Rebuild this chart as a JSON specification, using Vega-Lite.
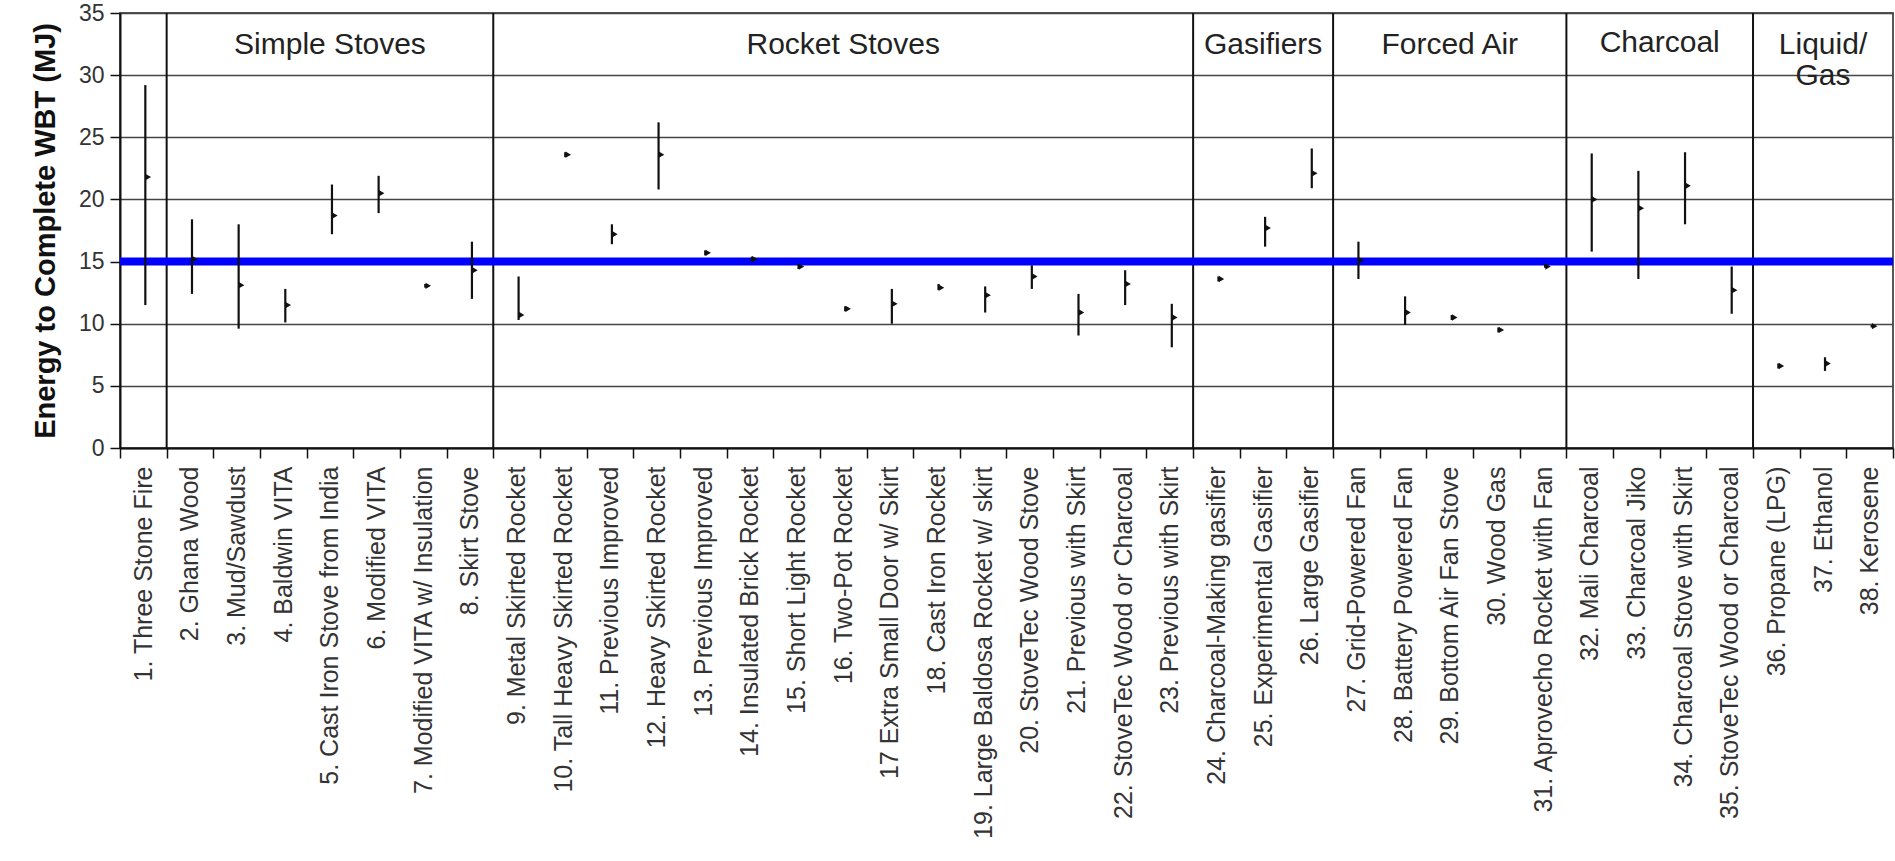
{
  "$schema": "https://vega.github.io/schema/vega-lite/v6.json",
  "width": 1773,
  "height": 435,
  "autosize": "none",
  "padding": {"left": 120, "top": 13, "right": 2, "bottom": 413},
  "background": "white",
  "config": {
    "font": "Liberation Sans",
    "view": {"stroke": "#222", "strokeWidth": 1.5}
  },
  "data": {
    "values": [
      {"n": "1. Three Stone Fire", "lo": 11.5, "hi": 29.2, "m": 21.8, "sep": 1},
      {"n": "2. Ghana Wood", "lo": 12.4, "hi": 18.4, "m": 15.2},
      {"n": "3. Mud/Sawdust", "lo": 9.6, "hi": 18.0, "m": 13.1},
      {"n": "4. Baldwin VITA", "lo": 10.1, "hi": 12.8, "m": 11.5},
      {"n": "5. Cast Iron Stove from India", "lo": 17.2, "hi": 21.2, "m": 18.7, "g": "Simple Stoves"},
      {"n": "6. Modified VITA", "lo": 18.9, "hi": 21.9, "m": 20.5},
      {"n": "7. Modified VITA w/ Insulation", "lo": 12.9, "hi": 13.2, "m": 13.05},
      {"n": "8. Skirt Stove", "lo": 12.0, "hi": 16.6, "m": 14.3, "sep": 1},
      {"n": "9. Metal Skirted Rocket", "lo": 10.3, "hi": 13.8, "m": 10.7},
      {"n": "10. Tall Heavy Skirted Rocket", "lo": 23.4, "hi": 23.8, "m": 23.6},
      {"n": "11. Previous Improved", "lo": 16.4, "hi": 18.0, "m": 17.2},
      {"n": "12. Heavy Skirted Rocket", "lo": 20.8, "hi": 26.2, "m": 23.6},
      {"n": "13. Previous Improved", "lo": 15.5, "hi": 15.9, "m": 15.7},
      {"n": "14. Insulated Brick Rocket", "lo": 15.0, "hi": 15.4, "m": 15.2},
      {"n": "15. Short Light Rocket", "lo": 14.4, "hi": 14.8, "m": 14.6},
      {"n": "16.  Two-Pot Rocket", "lo": 11.0, "hi": 11.4, "m": 11.2, "g": "Rocket Stoves"},
      {"n": "17  Extra Small Door w/ Skirt", "lo": 10.0, "hi": 12.8, "m": 11.6},
      {"n": "18. Cast Iron Rocket", "lo": 12.7, "hi": 13.2, "m": 12.9},
      {"n": "19. Large Baldosa Rocket  w/ skirt", "lo": 10.9, "hi": 13.0, "m": 12.3},
      {"n": "20. StoveTec Wood Stove", "lo": 12.8, "hi": 14.7, "m": 13.8},
      {"n": "21. Previous with Skirt", "lo": 9.05, "hi": 12.4, "m": 10.9},
      {"n": "22. StoveTec Wood or Charcoal", "lo": 11.5, "hi": 14.3, "m": 13.2},
      {"n": "23. Previous with Skirt", "lo": 8.1, "hi": 11.6, "m": 10.5, "sep": 1},
      {"n": "24. Charcoal-Making gasifier", "lo": 13.4, "hi": 13.8, "m": 13.6},
      {"n": "25. Experimental Gasifier", "lo": 16.2, "hi": 18.6, "m": 17.7, "g": "Gasifiers"},
      {"n": "26. Large Gasifier", "lo": 20.9, "hi": 24.1, "m": 22.1, "sep": 1},
      {"n": "27. Grid-Powered Fan", "lo": 13.6, "hi": 16.6, "m": 15.1},
      {"n": "28. Battery Powered Fan", "lo": 9.9, "hi": 12.2, "m": 10.9},
      {"n": "29. Bottom Air Fan Stove", "lo": 10.3, "hi": 10.7, "m": 10.5, "g": "Forced Air"},
      {"n": "30. Wood Gas", "lo": 9.3, "hi": 9.7, "m": 9.5},
      {"n": "31. Aprovecho Rocket with Fan", "lo": 14.5, "hi": 14.8, "m": 14.6, "sep": 1},
      {"n": "32. Mali Charcoal", "lo": 15.8, "hi": 23.7, "m": 20.0},
      {"n": "33. Charcoal Jiko", "lo": 13.6, "hi": 22.3, "m": 19.3, "g2": "Charcoal"},
      {"n": "34. Charcoal Stove with Skirt", "lo": 18.0, "hi": 23.8, "m": 21.1},
      {"n": "35. StoveTec Wood or Charcoal", "lo": 10.8, "hi": 14.6, "m": 12.7, "sep": 1},
      {"n": "36. Propane (LPG)", "lo": 6.4, "hi": 6.8, "m": 6.6},
      {"n": "37. Ethanol", "lo": 6.2, "hi": 7.3, "m": 6.8, "g": "Liquid/\nGas"},
      {"n": "38. Kerosene", "lo": 9.7, "hi": 9.9, "m": 9.8}
    ]
  },
  "encoding": {
    "x": {
      "field": "n",
      "type": "nominal",
      "scale": {
        "domain": ["1. Three Stone Fire", "2. Ghana Wood", "3. Mud/Sawdust", "4. Baldwin VITA", "5. Cast Iron Stove from India", "6. Modified VITA", "7. Modified VITA w/ Insulation", "8. Skirt Stove", "9. Metal Skirted Rocket", "10. Tall Heavy Skirted Rocket", "11. Previous Improved", "12. Heavy Skirted Rocket", "13. Previous Improved", "14. Insulated Brick Rocket", "15. Short Light Rocket", "16.  Two-Pot Rocket", "17  Extra Small Door w/ Skirt", "18. Cast Iron Rocket", "19. Large Baldosa Rocket  w/ skirt", "20. StoveTec Wood Stove", "21. Previous with Skirt", "22. StoveTec Wood or Charcoal", "23. Previous with Skirt", "24. Charcoal-Making gasifier", "25. Experimental Gasifier", "26. Large Gasifier", "27. Grid-Powered Fan", "28. Battery Powered Fan", "29. Bottom Air Fan Stove", "30. Wood Gas", "31. Aprovecho Rocket with Fan", "32. Mali Charcoal", "33. Charcoal Jiko", "34. Charcoal Stove with Skirt", "35. StoveTec Wood or Charcoal", "36. Propane (LPG)", "37. Ethanol", "38. Kerosene"],
        "paddingInner": 0,
        "paddingOuter": 0
      },
      "axis": {
        "title": null,
        "labelAngle": -90,
        "labelFontSize": 25,
        "labelColor": "#333",
        "labelLimit": 500,
        "labelPadding": 8,
        "tickBand": "extent",
        "tickSize": 10,
        "tickColor": "#111",
        "tickWidth": 1.5,
        "domainColor": "#111",
        "domainWidth": 2,
        "grid": false
      }
    }
  },
  "layer": [
    {
      "mark": {"type": "rule", "color": "#111", "strokeWidth": 2},
      "transform": [{"filter": "datum.sep === 1"}],
      "encoding": {"x": {"field": "n", "type": "nominal", "bandPosition": 1}}
    },
    {
      "mark": {"type": "text", "fontSize": 30, "color": "#222", "baseline": "middle", "align": "center", "lineBreak": "\n", "lineHeight": 31},
      "transform": [{"filter": "isValid(datum.g)"}],
      "encoding": {
        "text": {"field": "g"},
        "y": {"datum": 32.4, "type": "quantitative"}
      }
    },
    {
      "mark": {"type": "text", "fontSize": 30, "color": "#222", "baseline": "middle", "align": "center"},
      "transform": [{"filter": "isValid(datum.g2)"}],
      "encoding": {
        "x": {"field": "n", "type": "nominal", "bandPosition": 1},
        "text": {"field": "g2"},
        "y": {"datum": 32.6, "type": "quantitative"}
      }
    },
    {
      "data": {"values": [{"v": 15}]},
      "mark": {"type": "rule", "color": "#0000ff", "strokeWidth": 8},
      "encoding": {"x": null, "y": {"field": "v", "type": "quantitative"}}
    },
    {
      "mark": {"type": "rule", "color": "#111", "strokeWidth": 2.2, "xOffset": 2},
      "encoding": {
        "y": {
          "field": "lo",
          "type": "quantitative",
          "scale": {"domain": [0, 35], "nice": false, "zero": true},
          "axis": {
            "title": "Energy to Complete WBT (MJ)",
            "titleFontSize": 29,
            "titleFontWeight": "bold",
            "titleColor": "#111",
            "titlePadding": 18,
            "values": [0, 5, 10, 15, 20, 25, 30, 35],
            "labelFontSize": 23,
            "labelColor": "#333",
            "labelPadding": 6,
            "tickSize": 10,
            "tickColor": "#111",
            "tickWidth": 1.5,
            "domainColor": "#111",
            "domainWidth": 2,
            "grid": true,
            "gridColor": "#444",
            "gridWidth": 1.5
          }
        },
        "y2": {"field": "hi"}
      }
    },
    {
      "mark": {"type": "point", "shape": "triangle-right", "size": 40, "filled": true, "color": "#111", "opacity": 1, "xOffset": 5},
      "encoding": {"y": {"field": "m", "type": "quantitative"}}
    }
  ]
}
